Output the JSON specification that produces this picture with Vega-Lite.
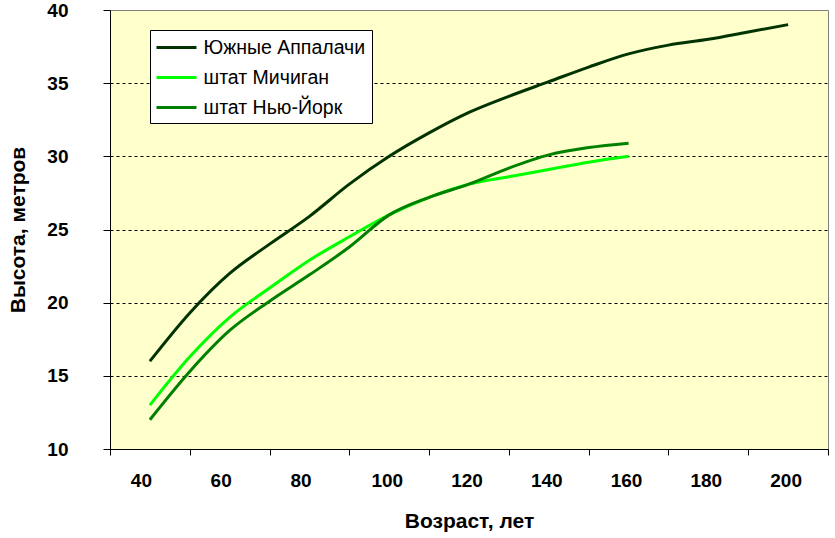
{
  "$schema": "https://vega.github.io/schema/vega-lite/v6.json",
  "width": 718,
  "height": 439,
  "autosize": "none",
  "padding": {"left": 110, "top": 10, "right": 7, "bottom": 89},
  "background": "white",
  "config": {
    "view": {"fill": "#FFFFCC", "stroke": "#808080", "strokeWidth": 1},
    "font": "Liberation Sans"
  },
  "data": {
    "values": [
      {"series": "Южные Аппалачи", "age": 40, "height": 16},
      {"series": "Южные Аппалачи", "age": 50, "height": 19.3},
      {"series": "Южные Аппалачи", "age": 60, "height": 22},
      {"series": "Южные Аппалачи", "age": 70, "height": 24},
      {"series": "Южные Аппалачи", "age": 80, "height": 25.9},
      {"series": "Южные Аппалачи", "age": 90, "height": 28.1},
      {"series": "Южные Аппалачи", "age": 100, "height": 30},
      {"series": "Южные Аппалачи", "age": 110, "height": 31.6},
      {"series": "Южные Аппалачи", "age": 120, "height": 33},
      {"series": "Южные Аппалачи", "age": 130, "height": 34.1},
      {"series": "Южные Аппалачи", "age": 140, "height": 35.1},
      {"series": "Южные Аппалачи", "age": 150, "height": 36.1},
      {"series": "Южные Аппалачи", "age": 160, "height": 37},
      {"series": "Южные Аппалачи", "age": 170, "height": 37.6},
      {"series": "Южные Аппалачи", "age": 180, "height": 38},
      {"series": "Южные Аппалачи", "age": 190, "height": 38.5},
      {"series": "Южные Аппалачи", "age": 200, "height": 39},
      {"series": "штат Мичиган", "age": 40, "height": 13},
      {"series": "штат Мичиган", "age": 50, "height": 16.3},
      {"series": "штат Мичиган", "age": 60, "height": 19},
      {"series": "штат Мичиган", "age": 70, "height": 21},
      {"series": "штат Мичиган", "age": 80, "height": 22.9},
      {"series": "штат Мичиган", "age": 90, "height": 24.5},
      {"series": "штат Мичиган", "age": 100, "height": 26},
      {"series": "штат Мичиган", "age": 110, "height": 27.2},
      {"series": "штат Мичиган", "age": 120, "height": 28.1},
      {"series": "штат Мичиган", "age": 130, "height": 28.6},
      {"series": "штат Мичиган", "age": 140, "height": 29.1},
      {"series": "штат Мичиган", "age": 150, "height": 29.6},
      {"series": "штат Мичиган", "age": 160, "height": 30},
      {"series": "штат Нью-Йорк", "age": 40, "height": 12},
      {"series": "штат Нью-Йорк", "age": 50, "height": 15.3},
      {"series": "штат Нью-Йорк", "age": 60, "height": 18.1},
      {"series": "штат Нью-Йорк", "age": 70, "height": 20.1},
      {"series": "штат Нью-Йорк", "age": 80, "height": 21.9},
      {"series": "штат Нью-Йорк", "age": 90, "height": 23.8},
      {"series": "штат Нью-Йорк", "age": 100, "height": 26},
      {"series": "штат Нью-Йорк", "age": 110, "height": 27.2},
      {"series": "штат Нью-Йорк", "age": 120, "height": 28.1},
      {"series": "штат Нью-Йорк", "age": 130, "height": 29.2},
      {"series": "штат Нью-Йорк", "age": 140, "height": 30.1},
      {"series": "штат Нью-Йорк", "age": 150, "height": 30.6},
      {"series": "штат Нью-Йорк", "age": 160, "height": 30.9}
    ]
  },
  "mark": {"type": "line", "interpolate": "monotone", "strokeWidth": 3},
  "encoding": {
    "x": {
      "field": "age",
      "type": "quantitative",
      "scale": {"domain": [30, 210], "nice": false, "zero": false},
      "axis": {
        "values": [30, 40, 50, 60, 70, 80, 90, 100, 110, 120, 130, 140, 150, 160, 170, 180, 190, 200, 210],
        "labelExpr": "datum.value % 20 == 0 ? datum.label : ''",
        "tickOpacity": {"condition": {"test": "datum.value % 20 == 0", "value": 0}, "value": 1},
        "labelOffset": {"condition": {"test": "datum.value < 100", "value": -9}, "value": -2.5},
        "grid": false,
        "domainColor": "black",
        "tickColor": "black",
        "tickSize": 6,
        "labelFont": "Liberation Sans",
        "labelFontSize": 19,
        "labelFontWeight": "bold",
        "labelColor": "black",
        "labelPadding": 16,
        "labelOverlap": false,
        "labelFlush": false,
        "title": "Возраст, лет",
        "titleFont": "Liberation Sans",
        "titleFontSize": 21,
        "titleFontWeight": "bold",
        "titleColor": "black",
        "titleX": 359,
        "titleY": 78,
        "titleAlign": "center",
        "titleBaseline": "alphabetic"
      }
    },
    "y": {
      "field": "height",
      "type": "quantitative",
      "scale": {"domain": [10, 40], "nice": false, "zero": false},
      "axis": {
        "values": [10, 15, 20, 25, 30, 35, 40],
        "grid": true,
        "gridColor": "black",
        "gridDash": [3, 3],
        "gridWidth": 1,
        "gridOpacity": {"condition": {"test": "datum.value == 10 || datum.value == 40", "value": 0}, "value": 1},
        "domainColor": "black",
        "tickColor": "black",
        "tickSize": 7,
        "labelFont": "Liberation Sans",
        "labelFontSize": 19,
        "labelFontWeight": "bold",
        "labelColor": "black",
        "labelPadding": 35,
        "labelOverlap": false,
        "labelFlush": false,
        "title": "Высота, метров",
        "titleFont": "Liberation Sans",
        "titleFontSize": 21,
        "titleFontWeight": "bold",
        "titleColor": "black",
        "titleAngle": 270,
        "titleX": -92,
        "titleY": 219.5,
        "titleAlign": "center",
        "titleBaseline": "middle"
      }
    },
    "color": {
      "field": "series",
      "type": "nominal",
      "scale": {
        "domain": ["Южные Аппалачи", "штат Мичиган", "штат Нью-Йорк"],
        "range": ["#003300", "#00FF00", "#008000"]
      },
      "legend": {
        "orient": "none",
        "legendX": 40,
        "legendY": 20,
        "title": null,
        "fillColor": "white",
        "strokeColor": "black",
        "cornerRadius": 0,
        "padding": 6,
        "symbolType": "M-1.1,0H2.9",
        "symbolSize": 400,
        "symbolStrokeWidth": 3,
        "labelFont": "Liberation Sans",
        "labelFontSize": 19.5,
        "labelColor": "black",
        "labelOffset": 24.5,
        "labelLimit": 300,
        "rowPadding": 9
      }
    }
  }
}
